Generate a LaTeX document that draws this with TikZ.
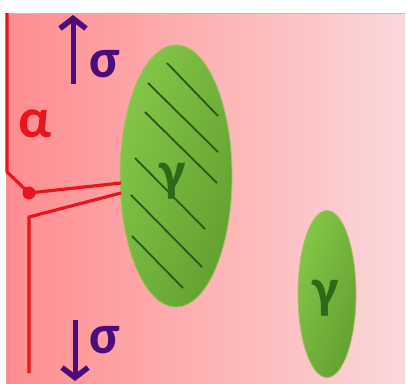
\documentclass[tikz,border=0pt]{standalone}
\usepackage{fontspec}
\setmainfont{Carlito}
\usetikzlibrary{shapes.geometric,arrows.meta}
\definecolor{sigmaC}{HTML}{4B0D7C}
\definecolor{alphaC}{HTML}{E8161C}
\definecolor{gammaC}{HTML}{2D6A18}
\definecolor{pinkL}{HTML}{FF8C8E}
\definecolor{pinkM}{HTML}{FFB2B4}
\definecolor{pinkR}{HTML}{FBD8DA}
\definecolor{greenL}{HTML}{84C748}
\definecolor{greenD}{HTML}{62A030}
\definecolor{greenEdge}{HTML}{A8C060}
\definecolor{hatchC}{HTML}{2A5818}
\tikzset{
  grain/.style={ellipse, draw=greenEdge, line width=0.8pt, inner sep=0pt,
    left color=greenL, right color=greenD, shading angle=70},
  hatchline/.style={draw=hatchC, line width=1.8pt},
  boundary/.style={draw=alphaC, line width=3.2pt, line join=round},
  sigarrow/.style={draw=sigmaC, line width=5pt,
    -{Straight Barb[length=10pt,width=26pt,line width=5.5pt]}},
  biglabel/.style={font=\fontsize{56}{56}\selectfont\bfseries, inner sep=0pt},
}
\begin{document}
\begin{tikzpicture}[x=1pt,y=-1pt]
\useasboundingbox (0,0) rectangle (407,383);
\fill[white] (0,0) rectangle (407,383);
\shade[left color=pinkL, middle color=pinkM, right color=pinkR] (6,13) rectangle (405,383);
\draw[gray!50, line width=0.6pt] (6,13) -- (405,13);

% grains
\node[grain, minimum width=112pt, minimum height=262pt] (g1) at (176,176) {};
\node[grain, minimum width=58pt, minimum height=167pt] (g2) at (327,294) {};

% hatch lines
\draw[hatchline] (167,63) -- (218,116);
\draw[hatchline] (148,83) -- (218,152);
\draw[hatchline] (145,112) -- (217,183);
\draw[hatchline] (135,158) -- (205,229);
\draw[hatchline] (131,195) -- (202,267);
\draw[hatchline] (132,236) -- (183,288);

\node[biglabel, text=gammaC] (lg1) at (173,181) {γ};
\node[biglabel, text=gammaC] (lg2) at (326,298) {γ};

% alpha boundaries
\coordinate (a) at (7,13);
\coordinate (b) at (7,172);
\coordinate (e) at (121,183);
\coordinate (f) at (29,217);
\coordinate (g) at (121,193);
\coordinate (h) at (29,373);
\node[circle, fill=alphaC, minimum size=13pt, inner sep=0pt] (dot) at (29,193) {};
\draw[boundary] (a) -- (b) -- (dot.center) -- (e);
\draw[boundary] (g) -- (f) -- (h);

\node[biglabel, text=alphaC] (la) at (35,124) {α};

% sigma arrows
\coordinate (s1b) at (73,84);
\coordinate (s1t) at (73,15);
\coordinate (s2t) at (75,320);
\coordinate (s2b) at (75,381);
\draw[sigarrow] (s1b) -- (s1t);
\draw[sigarrow] (s2t) -- (s2b);
\node[biglabel, text=sigmaC] (ls1) at (105,64) {σ};
\node[biglabel, text=sigmaC] (ls2) at (105,340) {σ};
\end{tikzpicture}
\end{document}
